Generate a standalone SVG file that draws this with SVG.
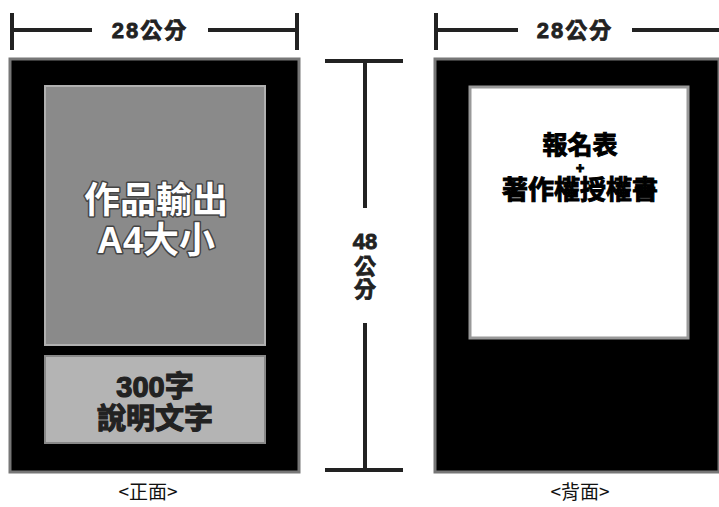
<svg xmlns="http://www.w3.org/2000/svg" width="719" height="507" viewBox="0 0 719 507">
<style>
.dim{stroke:#222;stroke-width:4;fill:none}
.dimt{font-family:"Liberation Sans","Noto Sans CJK TC",sans-serif;font-weight:bold;font-size:22px;fill:#222;stroke:#222;stroke-width:0.8;text-anchor:middle}
.panel{fill:#000;stroke:#777;stroke-width:3}
.cap{font-family:"Noto Sans CJK TC",sans-serif;font-size:19px;fill:#111;text-anchor:middle}
.big{font-family:"Liberation Sans","Noto Sans CJK TC",sans-serif;font-weight:bold;text-anchor:middle}
</style>
<rect width="719" height="507" fill="#fff"/>
<g id="connectors">
<path class="dim" d="M12 13V50M12 30H92M208 30H297M297 13V50"/>
<path class="dim" d="M436 13V50M436 30H518M632 30H719"/>
<path class="dim" d="M325 61H403M365 61V208M365 323V470M325 470H403"/>
</g>
<g id="dim-top-left"><text class="dimt" x="150" y="38" letter-spacing="2">28公分</text></g>
<g id="dim-top-right"><text class="dimt" x="575" y="38" letter-spacing="2">28公分</text></g>
<g id="dim-height">
<text class="dimt" x="365" y="249">48</text>
<text class="dimt" x="365" y="274">公</text>
<text class="dimt" x="365" y="297">分</text>
</g>
<g id="front">
<rect class="panel" x="10" y="59" width="289" height="413"/>
<rect x="45" y="86" width="220" height="259" fill="#8a8a8a" stroke="#b0b0b0" stroke-width="2"/>
<g class="big" font-size="36" fill="#fff" stroke="#444" stroke-width="3" paint-order="stroke" stroke-linejoin="round">
<text x="156" y="213">作品輸出</text>
<text x="156" y="253">A4大小</text>
</g>
<rect x="45" y="356" width="220" height="87" fill="#b4b4b4" stroke="#888" stroke-width="2"/>
<g class="big" font-size="29" fill="#222" stroke="#222" stroke-width="1.2">
<text x="155" y="397">300字</text>
<text x="155" y="429">說明文字</text>
</g>
</g>
<g id="back">
<rect class="panel" x="435" y="59" width="284" height="413"/>
<rect x="470" y="87" width="218" height="251" fill="#fff" stroke="#999" stroke-width="3"/>
<g class="big" fill="#000" stroke="#000" stroke-width="1">
<text x="580" y="154" font-size="25">報名表</text>
<text x="580" y="173" font-size="14">+</text>
<text x="580" y="199" font-size="26">著作權授權書</text>
</g>
</g>
<g id="labels">
<text class="cap" x="148" y="499">&lt;正面&gt;</text>
<text class="cap" x="580" y="499">&lt;背面&gt;</text>
</g>
</svg>
